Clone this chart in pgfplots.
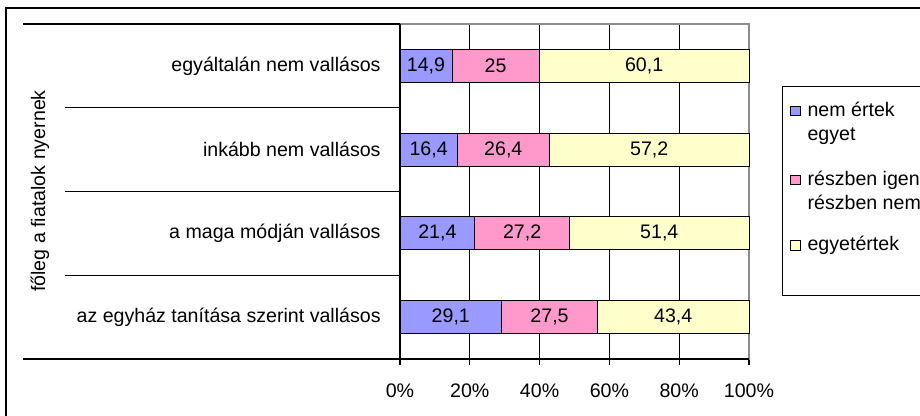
\documentclass[border=0pt]{standalone}
\usepackage{pgfplots}
\pgfplotsset{compat=1.18}
\usepackage{pgfplotstable}
\usepackage{fontspec}
\setmainfont{Liberation Sans}
\definecolor{nemcolor}{HTML}{9999FF}
\definecolor{reszcolor}{HTML}{FF99CC}
\definecolor{egycolor}{HTML}{FFFFCC}

% pos: 3 = top row
\pgfplotstableread{
pos nem resz egy
3 14.9 25 60.1
2 16.4 26.4 57.2
1 21.4 27.2 51.4
0 29.1 27.5 43.4
}\valasz

\pgfplotsset{
  sqlegend/.style={legend image code/.code={\draw[##1,line width=0.5pt,draw=black] (0pt,0.4pt) rectangle (4.8pt,5pt);}},
  % a 1pt x 1pt hidden axis at the origin: its legend 'at' is then in pt
  legendbox/.style={hide axis, scale only axis, width=1pt, height=1pt,
    at={(0pt,0pt)}, anchor=origin, xmin=0, xmax=1, ymin=0, ymax=1,
    legend style={at={(#1)}, anchor=north west, draw=none, fill=none,
      inner sep=0pt, column sep=3.5pt, nodes={inner sep=0pt, anchor=base west}},
    legend cell align=left},
}
\newcommand{\twolines}[2]{\begin{tabular}[t]{@{}l@{}}#1\\#2\end{tabular}}

\begin{document}
\begin{tikzpicture}[font=\fontsize{9.8}{12}\selectfont]
\useasboundingbox (0,0) rectangle (460pt,208pt);
\clip (0,0) rectangle (460pt,208pt);
\draw[line width=0.8pt] (3pt,-5pt) rectangle (470pt,204pt);
\draw[line width=0.6pt] (391.2pt,60.3pt) rectangle (470pt,164.7pt);
\node[rotate=90] at (20pt,112.5pt) {főleg a fiatalok nyernek};
\begin{axis}[
  at={(200pt,28.5pt)}, anchor=south west,
  scale only axis, width=174.5pt, height=167.5pt,
  xbar stacked, bar width=16.5pt,
  xmin=0, xmax=100, ymin=-0.5, ymax=3.5,
  clip=false,
  /pgf/number format/assume math mode=true,
  xtick={0,20,...,100},
  xticklabel={\pgfmathprintnumber{\tick}\%},
  ytick={0,1,2,3},
  yticklabels={az egyház tanítása szerint vallásos, a maga módján vallásos, inkább nem vallásos, egyáltalán nem vallásos},
  xtick pos=bottom, ytick pos=left,
  tick align=outside,
  xtick style={black,line width=0.6pt},
  xmajorgrids, grid style={black,line width=0.5pt},
  ytick style={draw=none}, major tick length=3pt,
  yticklabel style={anchor=east,inner sep=0pt,xshift=-6.5pt},
  xticklabel style={anchor=north,inner sep=0pt,yshift=-9pt},
  axis line style={draw=black!45,line width=0.6pt},
  nodes near coords={\makebox[0pt]{\pgfmathprintnumber[use comma,fixed,precision=1]{\pgfplotspointmeta}}},
  every node near coord/.append style={inner sep=0pt,black},
]
\addplot[fill=nemcolor, draw=black, line width=0.5pt, point meta=\thisrow{nem}]
  table[x=nem,y=pos] {\valasz};
\addplot[fill=reszcolor, draw=black, line width=0.5pt, point meta=\thisrow{resz}]
  table[x=resz,y=pos] {\valasz};
\addplot[fill=egycolor, draw=black, line width=0.5pt, point meta=\thisrow{egy}]
  table[x=egy,y=pos] {\valasz};
% axis lines and category separators
\draw[black,line width=0.6pt] (rel axis cs:0,0) -- (rel axis cs:1,0);
\draw[black,line width=0.6pt] (rel axis cs:0,0) -- (rel axis cs:0,1);
\draw[black,line width=0.6pt] (rel axis cs:0,0) -- ([xshift=-188.5pt]rel axis cs:0,0);
\draw[black,line width=0.6pt] (rel axis cs:0,1) -- ([xshift=-188.5pt]rel axis cs:0,1);
\draw[black,line width=0.6pt] (axis cs:0,0.5) -- ([xshift=-167.5pt]axis cs:0,0.5);
\draw[black,line width=0.6pt] (axis cs:0,1.5) -- ([xshift=-167.5pt]axis cs:0,1.5);
\draw[black,line width=0.6pt] (axis cs:0,2.5) -- ([xshift=-167.5pt]axis cs:0,2.5);
\end{axis}
% legend entries, one per hidden axis
\begin{axis}[legendbox={395,158.4}]
\addlegendimage{sqlegend, fill=nemcolor}
\addlegendentry{\twolines{nem értek}{egyet}}
\end{axis}
\begin{axis}[legendbox={395,123.9}]
\addlegendimage{sqlegend, fill=reszcolor}
\addlegendentry{\twolines{részben igen}{részben nem}}
\end{axis}
\begin{axis}[legendbox={395,90.05}]
\addlegendimage{sqlegend, fill=egycolor}
\addlegendentry{egyetértek}
\end{axis}
\end{tikzpicture}
\end{document}
